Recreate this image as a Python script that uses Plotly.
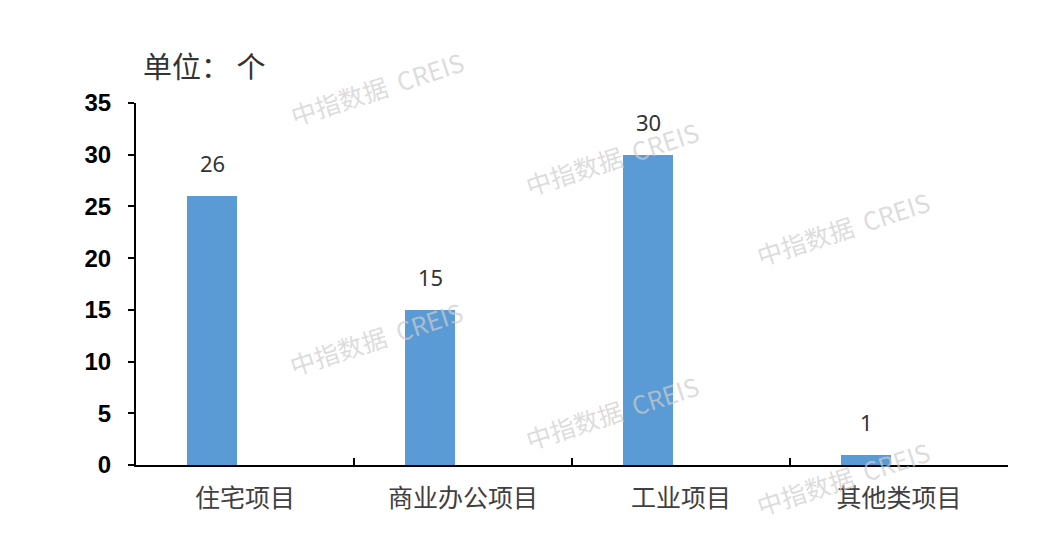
import plotly.graph_objects as go

categories = ["住宅项目", "商业办公项目", "工业项目", "其他类项目"]
values = [26, 15, 30, 1]
y_ticks = [0, 5, 10, 15, 20, 25, 30, 35]
unit_label = "单位：\u00a0个"
watermark = "中指数据\u00a0\u00a0CREIS"

# page body has an 8px margin; target plot area: left 136, top 103, right 1008, bottom 465
OFF = 8
W, H = 1048, 522
L = 136 - OFF
T = 103 - OFF
R = OFF + W - 1008
B = OFF + H - 465
pw, ph = W - L - R, H - T - B

fig = go.Figure()
fig.add_trace(go.Bar(
    x=categories, y=values,
    marker=dict(color="#5B9BD5", line=dict(width=0)),
    width=0.23, offset=-0.266,
    hoverinfo="skip",
))

ann = []
for i, (c, v) in enumerate(zip(categories, values)):
    ann.append(dict(x=i - 0.266 + 0.115, y=v, xref="x", yref="y", text=str(v),
                    showarrow=False, yshift=33, xanchor="center", yanchor="middle",
                    font=dict(family="Noto Sans, DejaVu Sans, sans-serif", size=22, color="#333333")))

def px2paper(px, py):
    return (px - OFF - L) / pw, (H - B - (py - OFF)) / ph

ux, uy = px2paper(141, 65)
ann.append(dict(x=ux, y=uy, xref="paper", yref="paper",
                text=unit_label, showarrow=False, xanchor="left", yanchor="middle",
                font=dict(family="Noto Sans CJK SC", size=29, color="#333333")))

wm_pos = [(377, 88), (612, 158), (843, 228), (376, 338), (612, 412), (843, 478)]
for (px, py) in wm_pos:
    wx, wy = px2paper(px, py)
    ann.append(dict(x=wx, y=wy, xref="paper", yref="paper",
                    text=watermark, showarrow=False, textangle=-18,
                    xanchor="center", yanchor="middle",
                    font=dict(family="Noto Sans CJK SC", size=25, color="rgba(205,205,205,0.7)")))

fig.update_layout(
    width=W, height=H,
    margin=dict(l=L, r=R, t=T, b=B),
    paper_bgcolor="white", plot_bgcolor="white",
    showlegend=False,
    annotations=ann,
    bargap=0,
    xaxis=dict(
        type="category", range=[-0.5, 3.5],
        showline=True, linecolor="black", linewidth=2,
        ticks="inside", ticklen=7, tickwidth=2, tickcolor="black",
        tickson="boundaries", showgrid=False,
        tickfont=dict(family="Noto Sans CJK SC", size=25, color="#404040"),
        ticklabelstandoff=10,
    ),
    yaxis=dict(
        range=[0, 35], tickvals=y_ticks, ticktext=[str(t) for t in y_ticks],
        showline=True, linecolor="black", linewidth=2,
        ticks="outside", ticklen=6, tickwidth=2, tickcolor="black",
        showgrid=False, zeroline=False,
        tickfont=dict(family="Liberation Sans, Arial", size=24, color="black", weight="bold"),
        ticklabelstandoff=12,
    ),
)

fig.write_html("out.html")
